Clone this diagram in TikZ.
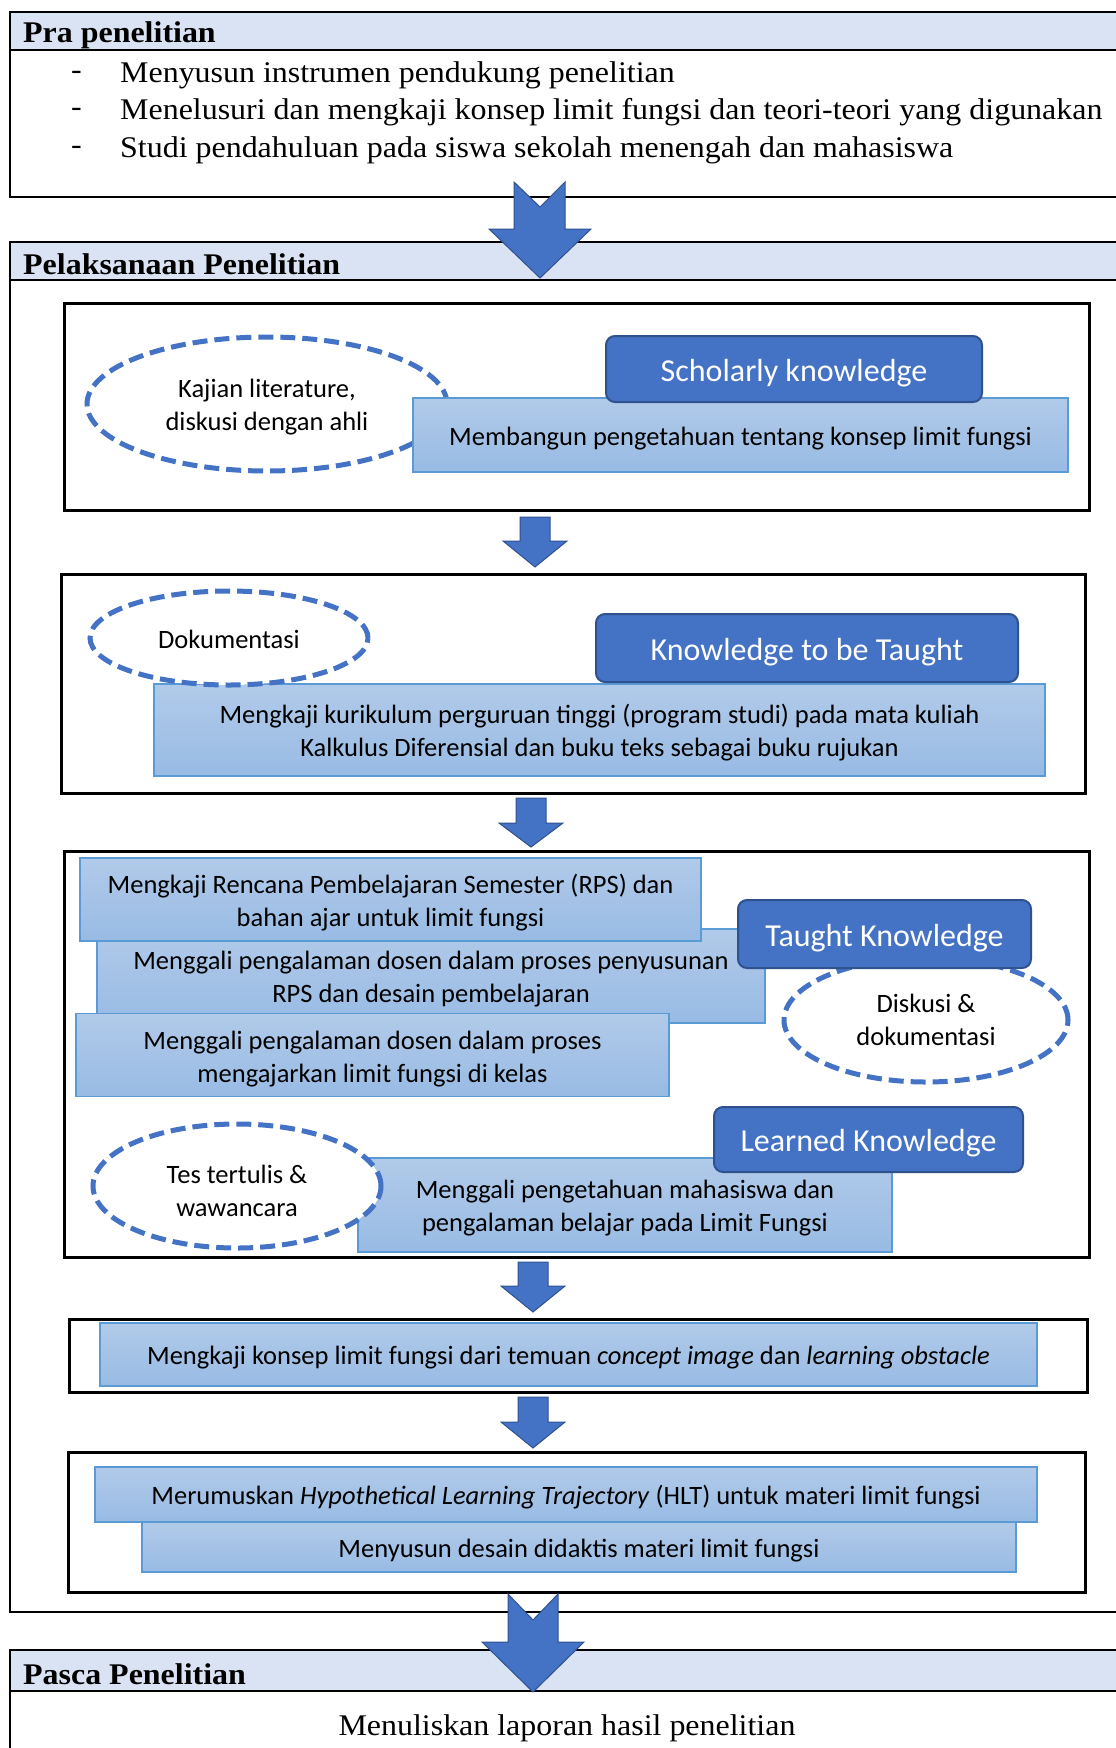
\documentclass[tikz,border=0pt]{standalone}
\usepackage{fontspec}
\setmainfont[FakeStretch=1.065]{Liberation Serif}
\newfontfamily\calfont{Carlito}
\usetikzlibrary{shapes.geometric}
\definecolor{hdrblue}{HTML}{DAE3F3}
\definecolor{dblue}{HTML}{4472C4}
\definecolor{dborder}{HTML}{2F528F}
\definecolor{ltop}{HTML}{B1CAE9}
\definecolor{lbot}{HTML}{98BBE4}
\definecolor{lborder}{HTML}{5B9BD5}
\tikzset{
  outerbox/.style={draw=black, line width=2pt},
  hdr/.style={fill=hdrblue, draw=black, line width=2pt},
  hdrtext/.style={anchor=west, inner sep=0pt, font=\bfseries\fontsize{30}{35}\selectfont},
  bultext/.style={anchor=west, inner sep=0pt, font=\fontsize{30}{35}\selectfont},
  inbox/.style={draw=black, line width=3pt},
  lowtext/.style={execute at begin node={\rule{0pt}{\dimexpr0.95em\relax}}},
  lbox/.style={draw=lborder, line width=1.5pt, top color=ltop, bottom color=lbot, inner sep=0pt, outer sep=0pt, align=center, font=\calfont\fontsize{26.5}{33}\selectfont, lowtext},
  dbox/.style={draw=dborder, line width=2pt, fill=dblue, rounded corners=9pt, inner sep=0pt, text=white, font=\calfont\fontsize{32}{36}\selectfont, lowtext},
  oval/.style={ellipse, draw=dblue, fill=white, line width=5pt, dash pattern=on 15pt off 7pt, inner sep=0pt, align=center, font=\calfont\fontsize{26.5}{33}\selectfont, lowtext},
  barrow/.style={fill=dblue, draw=dborder, line width=1pt},
}
\newcommand\blockarrow[4]{% cx, top, head y, tip
  \path[barrow] (#1-15,#2) -- (#1+15,#2) -- (#1+15,#3) -- (#1+32,#3) -- (#1,#4) -- (#1-32,#3) -- (#1-15,#3) -- cycle;}
\newcommand\twol[3][-4pt]{\raisebox{#1}[\height][\depth]{\begin{tabular}{@{}c@{}}#2\\#3\end{tabular}}}
\newcommand\shiftv[2]{\raisebox{#1}[\height][\depth]{#2}}
\begin{document}
\begin{tikzpicture}[x=1pt,y=-1pt]
\useasboundingbox (0,0) rectangle (1116,1748);
\clip (0,0) rectangle (1116,1748);
\fill[white] (0,0) rectangle (1116,1748);
% ---------- Pra penelitian
\draw[outerbox] (10,12) rectangle (1130,197);
\draw[hdr] (10,12) rectangle (1130,50);
\node[hdrtext] (prahdr) at (23,35) {Pra penelitian};
\node[bultext] (d1) at (71,75) {-};
\node[bultext] (p1) at (120,75) {Menyusun instrumen pendukung penelitian};
\node[bultext] (d2) at (71,112) {-};
\node[bultext] (p2) at (120,112) {Menelusuri dan mengkaji konsep limit fungsi dan teori-teori yang digunakan};
\node[bultext] (d3) at (71,150) {-};
\node[bultext] (p3) at (120,150) {Studi pendahuluan pada siswa sekolah menengah dan mahasiswa};
% ---------- Pelaksanaan
\draw[outerbox] (10,242) rectangle (1130,1612);
\draw[hdr] (10,242) rectangle (1130,280);
\node[hdrtext] (pelhdr) at (23,264) {Pelaksanaan Penelitian};
% big arrow 1
\path[barrow] (514,182) -- (540,207) -- (565,182) -- (565,229) -- (591,229) -- (540,278) -- (489,229) -- (514,229) -- cycle;
% ---------- Box 1
\draw[inbox] (64,303) rectangle (1089,510);
\node[oval, minimum width=360pt, minimum height=134pt] (e1) at (267,404) {\twol[-3.5pt]{Kajian literature,}{diskusi dengan ahli}};
\node[lbox, minimum width=655pt, minimum height=74pt] (m1) at (740.5,435) {Membangun pengetahuan tentang konsep limit fungsi};
\node[dbox, minimum width=376pt, minimum height=66pt] (s1) at (794,369) {Scholarly knowledge};
\blockarrow{535}{517}{541}{567}
% ---------- Box 2
\draw[inbox] (61,574) rectangle (1085,793);
\node[lbox, minimum width=891pt, minimum height=92pt] (l2) at (599.5,730) {\twol[-3pt]{Mengkaji kurikulum perguruan tinggi (program studi) pada mata kuliah}{Kalkulus Diferensial dan buku teks sebagai buku rujukan}};
\node[oval, minimum width=278pt, minimum height=94pt] (e2) at (229,638) {\shiftv{2pt}{Dokumentasi}};
\node[dbox, minimum width=422pt, minimum height=68pt] (k2) at (807,648) {Knowledge to be Taught};
\blockarrow{531}{798}{823}{847}
% ---------- Box 3
\draw[inbox] (64,851) rectangle (1089,1257);
\node[lbox, minimum width=668pt, minimum height=94pt] (b3) at (431,976) {\twol[-3.7pt]{Menggali pengalaman dosen dalam proses penyusunan}{RPS dan desain pembelajaran}};
\node[lbox, minimum width=621pt, minimum height=83pt] (a3) at (390.5,899.5) {\twol{Mengkaji Rencana Pembelajaran Semester (RPS) dan}{bahan ajar untuk limit fungsi}};
\node[lbox, minimum width=593pt, minimum height=83pt] (c3) at (372.5,1055) {\twol[-4pt]{Menggali pengalaman dosen dalam proses}{mengajarkan limit fungsi di kelas}};
\node[oval, minimum width=284pt, minimum height=124pt] (e3) at (926,1020) {\twol[-2.5pt]{Diskusi \&}{dokumentasi}};
\node[dbox, minimum width=293pt, minimum height=68pt] (t3) at (884.5,934) {Taught Knowledge};
\node[lbox, minimum width=534pt, minimum height=94pt] (d4) at (625,1205) {\twol[-3pt]{Menggali pengetahuan mahasiswa dan}{pengalaman belajar pada Limit Fungsi}};
\node[oval, minimum width=288pt, minimum height=124pt] (e4) at (237,1186) {\twol[-7pt]{Tes tertulis \&}{wawancara}};
\node[dbox, minimum width=309pt, minimum height=65pt] (lk) at (868.5,1139.5) {Learned Knowledge};
\blockarrow{533}{1262}{1286}{1312}
% ---------- Box 4
\draw[inbox] (69,1319) rectangle (1087,1392);
\node[lbox, minimum width=937pt, minimum height=63pt] (m4) at (568.5,1354.5) {Mengkaji konsep limit fungsi dari temuan \textit{concept image} dan \textit{learning obstacle}};
\blockarrow{533}{1397}{1422}{1448}
% ---------- Box 5
\draw[inbox] (68,1452) rectangle (1085,1592);
\node[lbox, minimum width=874pt, minimum height=50pt] (f5) at (579,1547) {Menyusun desain didaktis materi limit fungsi};
\node[lbox, minimum width=942pt, minimum height=55pt] (h5) at (566,1494.5) {Merumuskan \textit{Hypothetical Learning Trajectory} (HLT) untuk materi limit fungsi};
% ---------- Pasca
\draw[outerbox] (10,1650) rectangle (1130,1770);
\draw[hdr] (10,1650) rectangle (1130,1691);
\node[hdrtext] (pashdr) at (23,1674) {Pasca Penelitian};
\node[font=\fontsize{30}{35}\selectfont, inner sep=0pt] (lap) at (567,1728) {Menuliskan laporan hasil penelitian};
% big arrow 2
\path[barrow] (508,1594) -- (533,1620) -- (558,1594) -- (558,1642) -- (584,1642) -- (533,1692) -- (482,1642) -- (508,1642) -- cycle;
\end{tikzpicture}
\end{document}
